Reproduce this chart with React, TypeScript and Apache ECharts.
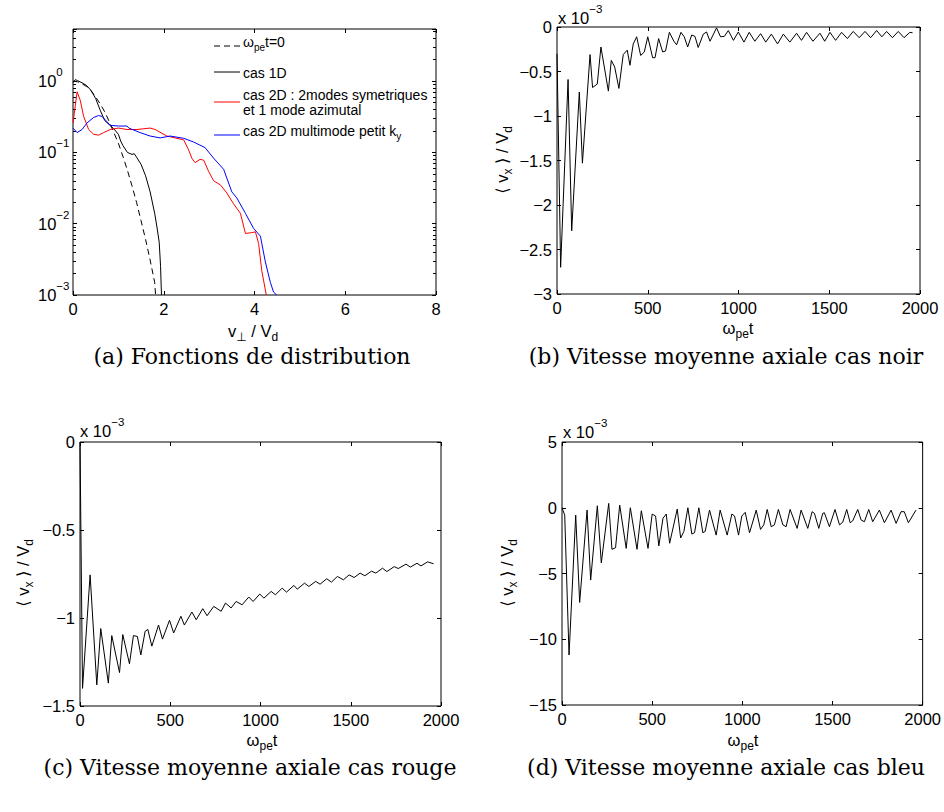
import React, { useEffect, useRef } from 'react';
import * as echarts from 'echarts';

// ---------------- data ----------------
// (a) distribution functions, f(v_perp / V_d)
const vInit = [0, 0.1, 0.2, 0.3, 0.4, 0.5, 0.6, 0.7, 0.8, 0.9, 1.0, 1.1, 1.2, 1.3, 1.4, 1.5, 1.6, 1.7, 1.8, 1.82];
const fInit = [1.0, 0.98, 0.92, 0.84, 0.73, 0.6, 0.48, 0.37, 0.27, 0.19, 0.135, 0.088, 0.056, 0.034, 0.02, 0.011, 0.006, 0.0031, 0.0015, 0.001];

const v1D = [0, 0.05, 0.1, 0.2, 0.3, 0.4, 0.5, 0.6, 0.7, 0.8, 0.9, 1.0, 1.05, 1.1, 1.2, 1.3, 1.35, 1.4, 1.5, 1.6, 1.7, 1.8, 1.85, 1.9, 1.93, 1.95];
const f1D = [0.95, 1.05, 1.02, 0.95, 0.87, 0.74, 0.57, 0.39, 0.28, 0.245, 0.215, 0.18, 0.145, 0.125, 0.1, 0.094, 0.096, 0.086, 0.068, 0.047, 0.028, 0.014, 0.009, 0.0055, 0.0025, 0.001];

const v2DSym = [0, 0.05, 0.09, 0.16, 0.235, 0.345, 0.455, 0.565, 0.675, 0.82, 1.0, 1.19, 1.41, 1.70, 1.81, 2.07, 2.25, 2.44, 2.55, 2.62, 2.69, 2.80, 2.88, 2.99, 3.10, 3.25, 3.39, 3.54, 3.69, 3.80, 3.94, 4.02, 4.09, 4.16, 4.26];
const f2DSym = [0.26, 0.45, 0.71, 0.54, 0.32, 0.21, 0.18, 0.175, 0.19, 0.21, 0.22, 0.21, 0.21, 0.22, 0.21, 0.17, 0.16, 0.15, 0.108, 0.083, 0.072, 0.08, 0.078, 0.054, 0.04, 0.035, 0.027, 0.019, 0.014, 0.0073, 0.0075, 0.0077, 0.0053, 0.0022, 0.001];

const v2DMulti = [0, 0.09, 0.2, 0.31, 0.455, 0.565, 0.64, 0.75, 0.82, 1.0, 1.19, 1.23, 1.48, 1.70, 1.92, 2.14, 2.44, 2.66, 2.91, 3.10, 3.32, 3.50, 3.61, 3.80, 3.98, 4.13, 4.24, 4.35, 4.42, 4.49];
const f2DMulti = [0.22, 0.19, 0.21, 0.26, 0.31, 0.33, 0.32, 0.27, 0.24, 0.235, 0.235, 0.22, 0.19, 0.17, 0.16, 0.17, 0.158, 0.14, 0.117, 0.083, 0.058, 0.028, 0.023, 0.014, 0.0086, 0.0067, 0.0029, 0.0015, 0.0011, 0.001];

// (b) <v_x>/V_d (x 1e-3), cas noir
const tNoir = [0, 20, 61, 81, 123, 140, 182, 196, 222, 242, 283, 299, 318, 341, 365, 387, 402, 420, 439, 461, 481, 500, 527, 540, 560, 582, 598, 619, 644, 659, 683, 701, 720, 742, 760, 778, 806, 824, 843, 879, 901, 922, 944, 972, 999, 1030, 1059, 1090, 1122, 1150, 1181, 1215, 1247, 1283, 1320, 1347, 1375, 1410, 1449, 1475, 1504, 1535, 1568, 1600, 1632, 1665, 1697, 1728, 1761, 1790, 1816, 1848, 1880, 1912, 1944, 1959];
const vNoir = [-0.3, -2.7, -0.59, -2.29, -0.73, -1.53, -0.31, -0.68, -0.64, -0.225, -0.72, -0.375, -0.45, -0.69, -0.31, -0.26, -0.43, -0.19, -0.11, -0.32, -0.28, -0.11, -0.345, -0.345, -0.13, -0.28, -0.27, -0.06, -0.16, -0.2, -0.06, -0.11, -0.225, -0.09, -0.105, -0.23, -0.08, -0.056, -0.16, -0.01, -0.11, -0.105, -0.04, -0.15, -0.056, -0.17, -0.06, -0.16, -0.075, -0.17, -0.08, -0.19, -0.08, -0.17, -0.07, -0.15, -0.06, -0.16, -0.07, -0.16, -0.06, -0.15, -0.06, -0.13, -0.05, -0.12, -0.05, -0.12, -0.04, -0.11, -0.05, -0.12, -0.05, -0.12, -0.06, -0.065];

// (c) cas rouge
const tRouge = [0, 14, 56, 93, 115, 157, 176, 219, 237, 274, 296, 318, 337, 361, 376, 398, 435, 457, 496, 519, 559, 578, 620, 644, 680, 704, 741, 782, 806, 837, 865, 898, 935, 959, 996, 1019, 1059, 1083, 1120, 1144, 1185, 1204, 1244, 1268, 1306, 1330, 1367, 1393, 1426, 1459, 1491, 1519, 1552, 1578, 1615, 1639, 1676, 1700, 1741, 1763, 1806, 1830, 1867, 1889, 1926, 1959];
const vRouge = [0, -1.40, -0.755, -1.38, -1.06, -1.37, -1.10, -1.31, -1.094, -1.26, -1.10, -1.105, -1.21, -1.075, -1.065, -1.16, -1.04, -1.12, -1.013, -1.085, -0.99, -1.04, -0.966, -1.01, -0.947, -0.987, -0.934, -0.962, -0.915, -0.943, -0.906, -0.925, -0.881, -0.906, -0.864, -0.887, -0.849, -0.868, -0.83, -0.853, -0.815, -0.836, -0.802, -0.821, -0.792, -0.808, -0.777, -0.796, -0.764, -0.783, -0.755, -0.77, -0.745, -0.76, -0.734, -0.745, -0.717, -0.736, -0.708, -0.719, -0.694, -0.711, -0.689, -0.704, -0.681, -0.692];

// (d) cas bleu
const tBleu = [0, 15, 39, 76, 98, 139, 159, 196, 218, 259, 277, 297, 320, 356, 379, 416, 440, 477, 500, 519, 537, 560, 578, 597, 639, 658, 676, 698, 720, 735, 759, 781, 794, 818, 855, 877, 916, 942, 957, 979, 997, 1016, 1040, 1077, 1101, 1119, 1138, 1160, 1178, 1200, 1225, 1243, 1265, 1304, 1326, 1363, 1387, 1400, 1424, 1446, 1455, 1483, 1514, 1539, 1557, 1579, 1598, 1612, 1640, 1659, 1677, 1701, 1723, 1760, 1788, 1825, 1853, 1880, 1898, 1921, 1963];
const vBleu = [0, -0.56, -11.2, -0.56, -7.2, -0.18, -5.5, 0.15, -4.2, 0.33, -3.16, -3.04, 0.2, -3.09, 0, -3.16, -0.23, -3.09, -0.48, -0.63, -2.9, -0.8, -0.48, -2.7, -0.1, -2.3, -1.8, 0, -2.0, -1.9, 0, -1.9, -1.8, -0.18, -2.08, -0.18, -2.08, -0.48, -0.63, -2.08, -0.63, -0.35, -1.9, -0.18, -1.65, -1.3, -0.13, -1.44, -1.3, -0.13, -1.3, -1.44, -0.13, -1.57, -0.18, -1.57, -0.3, -0.43, -1.57, -0.43, -0.38, -1.44, -0.13, -1.3, -1.1, -0.13, -1.14, -1.0, -0.13, -0.94, -1.06, -0.13, -1.06, -0.18, -1.14, -0.18, -1.19, -0.3, -0.3, -1.14, -0.18];

const legendA = ['\u03c9pe t=0', 'cas 1D', 'cas 2D : 2modes symetriques et 1 mode azimutal', 'cas 2D multimode petit ky'];
const captions = ['(a) Fonctions de distribution', '(b) Vitesse moyenne axiale cas noir', '(c) Vitesse moyenne axiale cas rouge', '(d) Vitesse moyenne axiale cas bleu'];
const minorMult = [2, 3, 4, 5, 6, 7, 8, 9];
const decades = [-3, -2, -1, 0];

// ---------------- style ----------------
const SANS = "'Liberation Sans', Arial, 'DejaVu Sans', sans-serif";
const SERIF = "'DejaVu Serif', 'Liberation Serif', serif";
const TICK = 16.5;
const A_MAX = 5.4;

const minus = (s: string) => s.replace(/-/g, '\u2212');
const pairs = (xs: number[], ys: number[]) => xs.map((x, i) => [x, ys[i]]);

function rich(base: number, small: number, lh: number, subLh: number) {
  const c = { color: '#000', fill: '#000', fontFamily: SANS };
  return {
    b: { ...c, fontSize: base, lineHeight: lh, verticalAlign: 'middle' },
    sub: { ...c, fontSize: small, lineHeight: subLh, verticalAlign: 'bottom' },
    sup: { ...c, fontSize: small, lineHeight: subLh, verticalAlign: 'top' },
  };
}

function txt(x: number, y: number, text: string, r: any, align = 'center', rotation = 0) {
  return {
    type: 'text', x, y, rotation, silent: true, z: 100,
    style: { text, rich: r, align, verticalAlign: 'middle', fill: '#000', font: `16px ${SANS}` },
  };
}

const grids = [
  { left: 73, top: 29, width: 363, height: 266 },
  { left: 557, top: 27, width: 363, height: 267 },
  { left: 80, top: 442, width: 361, height: 264 },
  { left: 562, top: 442, width: 361, height: 263 },
];

const tick = { show: true, inside: true, length: 4, lineStyle: { color: '#000', width: 1 } };
const noLine = { show: false, onZero: false };

function xPair(gi: number, min: number, max: number, interval: number) {
  const base = { gridIndex: gi, type: 'value', min, max, interval, splitLine: { show: false }, axisLine: noLine, axisTick: tick };
  return [
    { ...base, position: 'bottom', axisLabel: { color: '#000', fontFamily: SANS, fontSize: TICK, margin: 5, formatter: (v: number) => minus(String(v)) } },
    { ...base, position: 'top', axisLabel: { show: false } },
  ];
}

function yPair(gi: number, min: number, max: number, interval: number) {
  const base = { gridIndex: gi, type: 'value', min, max, interval, splitLine: { show: false }, axisLine: noLine, axisTick: tick };
  return [
    { ...base, position: 'left', axisLabel: { color: '#000', fontFamily: SANS, fontSize: TICK, margin: 5, formatter: (v: number) => minus(String(v)) } },
    { ...base, position: 'right', axisLabel: { show: false } },
  ];
}

export default function App() {
  const ref = useRef<HTMLDivElement>(null);
  useEffect(() => {
    const chart = echarts.init(ref.current!, null, { renderer: 'svg' });

    const minorVals: number[] = [];
    decades.forEach((d) => minorMult.forEach((m) => {
      const v = d + Math.log10(m);
      if (v < Math.log10(A_MAX)) minorVals.push(v);
    }));

    const logFmt = (v: number) => {
      const e = Math.log10(v);
      const r = Math.round(e);
      if (Math.abs(e - r) > 1e-6) return '';
      return `{b|10}{sup|${minus(String(r))}}`;
    };

    const logBase = { gridIndex: 0, type: 'log', logBase: 10, min: 0.001, max: A_MAX, interval: 1, splitLine: { show: false }, axisLine: noLine, axisTick: tick };
    const minorBase = { gridIndex: 0, type: 'value', min: -3, max: Math.log10(A_MAX), splitLine: { show: false }, axisLine: noLine, axisLabel: { show: false },
      axisTick: { show: true, inside: true, length: 3, customValues: minorVals, lineStyle: { color: '#000', width: 1 } } };

    const yAxis = [
      { ...logBase, position: 'left', axisLabel: { formatter: logFmt, align: 'left', margin: 35, rich: rich(TICK, 11.5, 30, 12) } },
      { ...logBase, position: 'right', axisLabel: { show: false } },
      { ...minorBase, position: 'left' },
      { ...minorBase, position: 'right' },
      ...yPair(1, -3, 0, 0.5),
      ...yPair(2, -1.5, 0, 0.5),
      ...yPair(3, -15, 5, 5),
    ];

    const xAxis = [
      ...xPair(0, 0, 8, 2),
      ...xPair(1, 0, 2000, 500),
      ...xPair(2, 0, 2000, 500),
      ...xPair(3, 0, 2000, 500),
    ];

    const line = (name: string, xi: number, yi: number, data: number[][], color: string, dash?: number[]) => ({
      name, type: 'line', xAxisIndex: xi, yAxisIndex: yi, data, showSymbol: false, symbol: 'none', silent: true,
      lineStyle: { color, width: 1, type: dash ?? 'solid' }, clip: true,
    });

    const series = [
      line(legendA[0], 0, 0, pairs(vInit, fInit), '#000', [6, 4]),
      line(legendA[1], 0, 0, pairs(v1D, f1D), '#000'),
      line(legendA[2], 0, 0, pairs(v2DSym, f2DSym), '#ff0000'),
      line(legendA[3], 0, 0, pairs(v2DMulti, f2DMulti), '#0000ff'),
      line('cas noir', 2, 4, pairs(tNoir, vNoir), '#000'),
      line('cas rouge', 4, 6, pairs(tRouge, vRouge), '#000'),
      line('cas bleu', 6, 8, pairs(tBleu, vBleu), '#000'),
    ];

    const rLab = rich(TICK, 12, 24, 8);
    const rExp = rich(TICK, 11.5, 30, 12);
    const rLeg = rich(14, 10, 20, 10);
    const ylab = '{b|\u27e8 v}{sub|x}{b| \u27e9 / V}{sub|d}';
    const omega = '{b|\u03c9}{sub|pe}{b|t}';

    const legLine = (x1: number, x2: number, y: number, color: string, dash?: number[]) => ({
      type: 'line', silent: true, z: 100, shape: { x1, y1: y, x2, y2: y },
      style: { stroke: color, lineWidth: 1, lineDash: dash },
    });

    const capt = (x: number, y: number, text: string) => ({
      type: 'text', x, y, silent: true, z: 100,
      style: { text, align: 'center', verticalAlign: 'middle', fill: '#000', font: `22px ${SERIF}` },
    });

    const graphic = [
      // axis labels
      txt(253, 331, '{b|v}{sub|\u22a5}{b| / V}{sub|d}', rLab),
      txt(738, 328, omega, rLab),
      txt(262, 740, omega, rLab),
      txt(743, 740, omega, rLab),
      txt(502, 160, ylab, rLab, 'center', Math.PI / 2),
      txt(23, 573, ylab, rLab, 'center', Math.PI / 2),
      txt(507, 573, ylab, rLab, 'center', Math.PI / 2),
      // exponent labels
      txt(558, 18, '{b|x 10}{sup|\u22123}', rExp, 'left'),
      txt(80, 431, '{b|x 10}{sup|\u22123}', rExp, 'left'),
      txt(563, 432, '{b|x 10}{sup|\u22123}', rExp, 'left'),
      // legend (a)
      legLine(214, 240, 46, '#000', [6, 4]),
      txt(243, 42, '{b|\u03c9}{sub|pe}{b|t=0}', rLeg, 'left'),
      legLine(214, 240, 72, '#000'),
      txt(243, 73, '{b|cas 1D}', rLeg, 'left'),
      legLine(214, 240, 102, '#ff0000'),
      txt(243, 95, '{b|cas 2D : 2modes symetriques}', rLeg, 'left'),
      txt(243, 110, '{b|et 1 mode azimutal}', rLeg, 'left'),
      legLine(214, 240, 135, '#0000ff'),
      txt(243, 131, '{b|cas 2D multimode petit k}{sub|y}', rLeg, 'left'),
      // captions
      capt(252, 356, captions[0]),
      capt(726, 356, captions[1]),
      capt(250, 767, captions[2]),
      capt(726, 767, captions[3]),
    ];

    chart.setOption({
      animation: false,
      backgroundColor: '#fff',
      grid: grids.map((g) => ({ ...g, show: true, borderColor: '#000', borderWidth: 1, backgroundColor: 'transparent', containLabel: false })),
      xAxis,
      yAxis,
      series,
      graphic,
    });
    return () => chart.dispose();
  }, []);
  return <div ref={ref} style={{ position: 'fixed', left: 0, top: 0, width: 944, height: 812, background: '#fff' }} />;
}
